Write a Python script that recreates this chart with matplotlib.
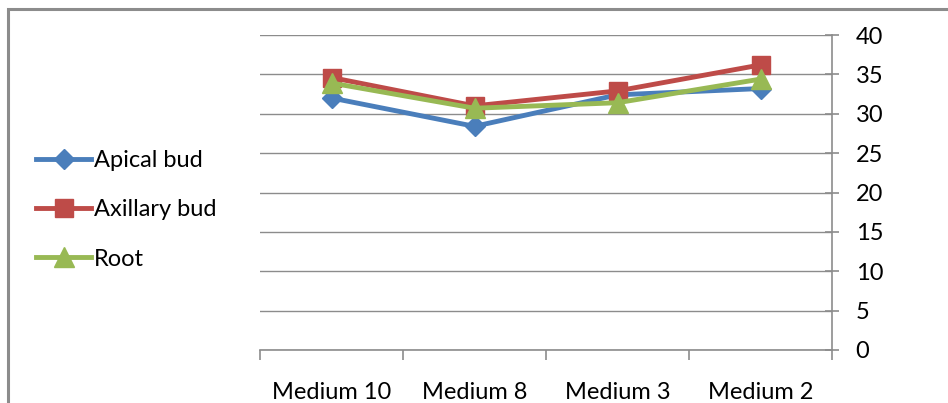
import matplotlib
matplotlib.use("Agg")
import matplotlib.pyplot as plt
from matplotlib.patches import Rectangle

# media and measured values per tissue
media = ["Medium 10", "Medium 8", "Medium 3", "Medium 2"]
apical_bud = [32.0, 28.4, 32.4, 33.2]
axillary_bud = [34.6, 31.0, 32.9, 36.2]
root = [33.9, 30.7, 31.4, 34.4]
y_ticks = [0, 5, 10, 15, 20, 25, 30, 35, 40]

plt.rcParams['font.family'] = ['Lato', 'DejaVu Sans']

fig = plt.figure(figsize=(9.48, 4.03), dpi=100)

# outer chart frame
fig.patches.append(Rectangle((8 / 948, -0.1), 1.2, 1 - 9 / 403 + 0.1,
                             transform=fig.transFigure, fill=False,
                             edgecolor='#8c8c8c', linewidth=2.2))

ax = fig.add_axes([260 / 948, 1 - 350 / 403, 572 / 948, 315 / 403])
x = range(len(media))

ax.plot(x, apical_bud, color='#4a7ebb', lw=3.5, marker='D', ms=10,
        label='Apical bud', zorder=3)
ax.plot(x, axillary_bud, color='#be4b48', lw=3.5, marker='s', ms=12.5,
        label='Axillary bud', zorder=4)
ax.plot(x, root, color='#98b954', lw=3.5, marker='^', ms=14,
        label='Root', zorder=5)

ax.set_xlim(-0.5, len(media) - 0.5)
ax.set_ylim(0, 40)
ax.set_yticks(y_ticks)
ax.yaxis.tick_right()
ax.yaxis.set_label_position('right')
ax.grid(axis='y', color='#8c8c8c', lw=1)
ax.set_axisbelow(True)

for s in ['top', 'left']:
    ax.spines[s].set_visible(False)
for s in ['right', 'bottom']:
    ax.spines[s].set_color('#8c8c8c')
    ax.spines[s].set_linewidth(1.2)

ax.tick_params(axis='y', direction='inout', length=10, width=1.2,
               color='#8c8c8c', labelsize=17, pad=12)
# category boundaries carry the x ticks, labels sit under the centres
ax.set_xticks([i - 0.5 for i in range(len(media) + 1)], minor=False)
ax.set_xticklabels([])
ax.tick_params(axis='x', which='major', direction='out', length=7,
               width=1.2, color='#8c8c8c')
ax.set_xticks(list(x), minor=True)
ax.set_xticklabels(media, minor=True)
ax.tick_params(axis='x', which='minor', length=0, labelsize=17, pad=23)

ax.legend(loc='center left', bbox_to_anchor=(-0.428, 0.445), frameon=False,
          fontsize=17, handlelength=2.3, handletextpad=0.15,
          labelspacing=1.2)

fig.savefig('out.png', dpi=100)
